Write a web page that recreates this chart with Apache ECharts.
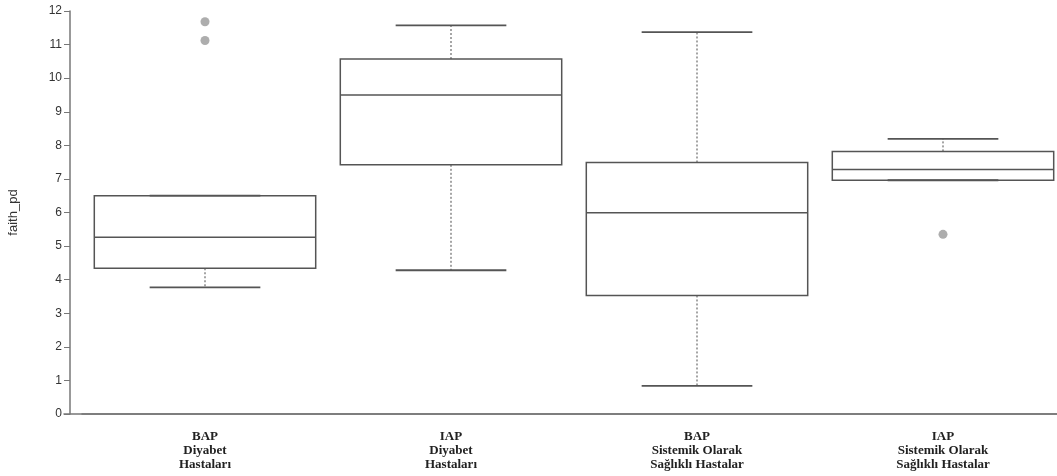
<!DOCTYPE html>
<html>
<head>
<meta charset="utf-8">
<script src="https://cdn.jsdelivr.net/npm/echarts@6/dist/echarts.min.js"></script>
<style>
  html, body { margin: 0; padding: 0; background: #fff; }
  #chart { width: 1057px; height: 476px; }
</style>
</head>
<body>
<div id="chart"></div>
<script>
// kategoriler
var categories = [
  'BAP\nDiyabet\nHastaları',
  'IAP\nDiyabet\nHastaları',
  'BAP\nSistemik Olarak\nSağlıklı Hastalar',
  'IAP\nSistemik Olarak\nSağlıklı Hastalar'
];

// kutu grafiği değerleri (faith_pd)
var whiskerLow  = [3.77, 4.28, 0.84, 6.96];
var q1          = [4.34, 7.42, 3.53, 6.96];
var median      = [5.26, 9.50, 5.99, 7.28];
var q3          = [6.50, 10.57, 7.49, 7.82];
var whiskerHigh = [6.50, 11.57, 11.37, 8.19];

// aykırı değerler
var outlierGroups = [0, 0, 3];
var outlierValues = [11.68, 11.12, 5.35];

// y ekseni
var yTicks = [0, 1, 2, 3, 4, 5, 6, 7, 8, 9, 10, 11, 12];

var chart = echarts.init(document.getElementById('chart'));

var boxData = categories.map(function (c, i) {
  return [i, whiskerLow[i], q1[i], median[i], q3[i], whiskerHigh[i]];
});
var outlierData = outlierGroups.map(function (g, i) {
  return [g, outlierValues[i]];
});

function renderBox(params, api) {
  var i = api.value(0);
  var cx = api.coord([i, 0])[0];
  var bw = api.size([1, 0])[0] * 0.9;
  var half = bw / 2;
  var cap = bw / 4;
  var yLow = api.coord([i, api.value(1)])[1];
  var yQ1 = api.coord([i, api.value(2)])[1];
  var yMed = api.coord([i, api.value(3)])[1];
  var yQ3 = api.coord([i, api.value(4)])[1];
  var yHigh = api.coord([i, api.value(5)])[1];
  var lineStyle = { stroke: '#555', lineWidth: 1.5, fill: null };
  var dashStyle = { stroke: '#888', lineWidth: 1.5, lineDash: [2, 2], fill: null };
  var children = [];
  if (yHigh < yQ3) {
    children.push({ type: 'line', shape: { x1: cx, y1: yQ3, x2: cx, y2: yHigh }, style: dashStyle });
  }
  if (yLow > yQ1) {
    children.push({ type: 'line', shape: { x1: cx, y1: yQ1, x2: cx, y2: yLow }, style: dashStyle });
  }
  children.push({
    type: 'rect',
    shape: { x: cx - half, y: yQ3, width: bw, height: yQ1 - yQ3 },
    style: { fill: '#fff', stroke: '#555', lineWidth: 1.5 }
  });
  children.push({ type: 'line', shape: { x1: cx - half, y1: yMed, x2: cx + half, y2: yMed }, style: lineStyle });
  children.push({ type: 'line', shape: { x1: cx - cap, y1: yHigh, x2: cx + cap, y2: yHigh }, style: { stroke: '#555', lineWidth: 1.8 } });
  children.push({ type: 'line', shape: { x1: cx - cap, y1: yLow, x2: cx + cap, y2: yLow }, style: { stroke: '#555', lineWidth: 1.8 } });
  return { type: 'group', children: children };
}

var option = {
  animation: false,
  grid: [
    { left: 82, width: 984, top: 11, height: 403, outerBoundsMode: 'none', containLabel: false },
    // x ekseni çizgisini y eksenine kadar uzatmak için
    { left: 64, right: 0, top: 11, height: 403, outerBoundsMode: 'none', containLabel: false }
  ],
  xAxis: [
    {
      type: 'category',
      gridIndex: 0,
      data: categories,
      boundaryGap: true,
      axisLine: { lineStyle: { color: '#777', width: 1.5 } },
      axisTick: { alignWithLabel: true, length: 5, lineStyle: { color: '#777' } },
      axisLabel: {
        interval: 0,
        margin: 16,
        color: '#222',
        fontFamily: '"Liberation Serif", "Times New Roman", serif',
        fontWeight: 'bold',
        fontSize: 13,
        lineHeight: 14
      },
      splitLine: { show: false }
    },
    {
      type: 'value',
      gridIndex: 1,
      axisLine: { show: true, onZero: false, lineStyle: { color: '#777', width: 1.5 } },
      axisTick: { show: false },
      axisLabel: { show: false },
      splitLine: { show: false }
    }
  ],
  yAxis: [
    {
      type: 'value',
      gridIndex: 0,
      min: yTicks[0],
      max: yTicks[yTicks.length - 1],
      interval: 1,
      offset: 12,
      name: 'faith_pd',
      nameLocation: 'middle',
      nameGap: 50,
      nameTextStyle: { color: '#333', fontSize: 13, fontFamily: '"Liberation Sans", Arial, sans-serif' },
      axisLine: { show: true, lineStyle: { color: '#777', width: 1.5 } },
      axisTick: { show: true, length: 6, lineStyle: { color: '#777' } },
      axisLabel: { margin: 8, color: '#333', fontSize: 12, fontFamily: '"Liberation Sans", Arial, sans-serif' },
      splitLine: { show: false }
    },
    {
      type: 'value',
      gridIndex: 1,
      show: false
    }
  ],
  series: [
    {
      type: 'custom',
      renderItem: renderBox,
      encode: { x: 0, y: [1, 2, 3, 4, 5] },
      data: boxData,
      z: 2
    },
    {
      type: 'scatter',
      data: outlierData,
      symbolSize: 9,
      itemStyle: { color: '#999' },
      z: 3
    }
  ]
};

chart.setOption(option);
</script>
</body>
</html>
